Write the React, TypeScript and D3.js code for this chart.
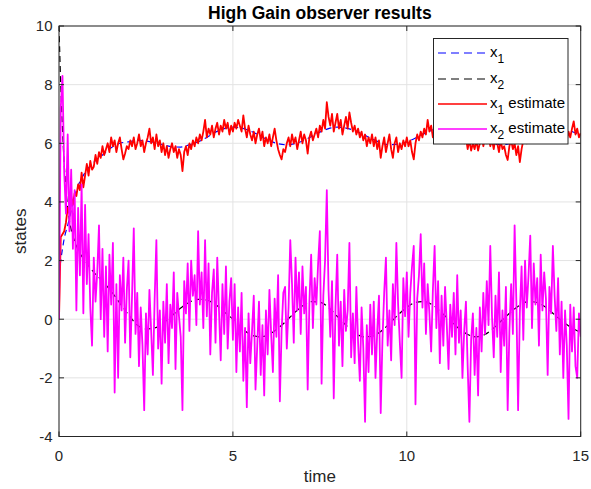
import React from "react";
import * as d3 from "d3";

// ---- data ----
const EST_STEP = 0.05; // sampling step of the estimate series (s)

const trueTimes = [0, 0.05, 0.1, 0.15, 0.25, 0.5, 0.75, 1, 1.25, 1.5, 1.75, 2, 2.25, 2.5, 2.75, 3, 3.25, 3.5, 3.75, 4, 4.25, 4.5, 4.75, 5, 5.25, 5.5, 5.75, 6, 6.25, 6.5, 6.75, 7, 7.25, 7.5, 7.75, 8, 8.25, 8.5, 8.75, 9, 9.25, 9.5, 9.75, 10, 10.25, 10.5, 10.75, 11, 11.25, 11.5, 11.75, 12, 12.25, 12.5, 12.75, 13, 13.25, 13.5, 13.75, 14, 14.25, 14.5, 14.75, 15];

const x1True = [1.5, 2.0, 2.4, 2.75, 3.2, 4.4, 5.0, 5.35, 5.6, 5.85, 6.0, 6.05, 6.1, 6.08, 6.02, 5.95, 5.88, 5.87, 5.95, 6.05, 6.2, 6.38, 6.5, 6.55, 6.52, 6.42, 6.28, 6.12, 6.0, 5.95, 5.98, 6.08, 6.22, 6.38, 6.5, 6.55, 6.52, 6.43, 6.3, 6.15, 6.02, 5.95, 5.97, 6.05, 6.18, 6.33, 6.46, 6.54, 6.55, 6.48, 6.36, 6.22, 6.08, 5.98, 5.95, 6.0, 6.12, 6.27, 6.42, 6.52, 6.55, 6.5, 6.4, 6.27];

const x2True = [10, 8.0, 6.5, 5.3, 3.8, 2.5, 2.0, 1.6, 1.3, 0.95, 0.55, 0.15, -0.2, -0.33, -0.3, -0.12, 0.12, 0.38, 0.58, 0.68, 0.65, 0.5, 0.25, 0.0, -0.3, -0.52, -0.6, -0.55, -0.35, -0.1, 0.2, 0.45, 0.6, 0.58, 0.4, 0.1, -0.2, -0.45, -0.6, -0.58, -0.42, -0.15, 0.15, 0.4, 0.57, 0.6, 0.48, 0.22, -0.05, -0.32, -0.52, -0.6, -0.52, -0.3, -0.02, 0.25, 0.48, 0.6, 0.57, 0.4, 0.15, -0.1, -0.3, -0.45];

const x1Estimate = [
  0, 2.8, 2.9, 3.0, 3.3, 3.8, 3.6, 4.2, 3.9, 4.3, 4.2, 4.6, 4.4, 5.0, 4.5, 4.9, 5.3, 4.9, 5.4, 5.1,
  5.2, 5.6, 5.3, 5.7, 5.5, 5.9, 5.6, 5.8, 6.0, 5.7, 6.2, 5.9, 6.1, 5.7, 6.0, 6.2, 5.8, 5.45, 5.65, 5.9,
  5.8, 6.1, 5.9, 6.2, 5.8, 6.0, 6.3, 5.9, 6.1, 5.7, 6.0, 6.2, 6.5, 6.0, 6.2, 5.8, 6.3, 5.9, 6.1, 5.7,
  6.0, 5.6, 5.9, 5.5, 5.8, 6.0, 5.7, 5.9, 5.5, 5.8, 5.6, 5.05, 5.7, 5.9, 5.6, 6.0, 5.8, 6.1, 5.9, 6.2,
  6.0, 6.3, 6.1, 6.4, 6.8, 6.2, 6.5, 6.3, 6.6, 6.2, 6.5, 6.7, 6.3, 6.6, 6.4, 6.8, 6.5, 6.7, 6.3, 6.6,
  6.4, 6.7, 6.5, 6.8, 6.6, 6.4, 6.95, 6.5, 6.2, 6.6, 6.3, 6.1, 6.4, 6.0, 6.3, 6.5, 6.1, 6.4, 5.9, 6.2,
  6.0, 6.3, 5.9, 6.2, 6.5, 6.1, 5.8, 5.6, 5.45, 5.8, 5.7, 6.0, 6.2, 5.9, 6.3, 6.0, 6.2, 5.8, 6.1, 6.4,
  6.0, 6.3, 6.1, 5.65, 6.2, 6.4, 6.1, 6.3, 6.5, 6.2, 6.6, 6.4, 6.8, 6.5, 7.4, 6.9, 6.6, 7.0, 6.4, 6.7,
  7.0, 6.5, 6.8, 6.3, 6.6, 6.9, 6.5, 7.05, 6.7, 6.4, 6.6, 6.3, 6.5, 6.2, 6.4, 6.1, 6.3, 5.9, 6.2, 6.0,
  6.3, 5.9, 6.2, 5.8, 6.1, 5.5, 5.9, 6.2, 5.7, 6.0, 6.3, 5.8, 5.5, 6.0, 6.2, 5.7, 6.0, 5.8, 6.1, 5.9,
  6.2, 5.9, 6.1, 5.7, 5.45, 6.0, 6.3, 6.1, 6.4, 6.2, 6.5, 6.3, 6.8, 6.4, 6.6, 6.2, 6.5, 6.3, 6.7, 6.4,
  6.6, 6.3, 6.7, 6.4, 6.6, 6.2, 6.5, 6.3, 6.6, 6.2, 6.4, 6.1, 6.3, 6.0, 6.2, 5.8, 6.1, 5.75, 6.0, 5.8,
  6.1, 5.75, 6.0, 6.3, 5.9, 6.2, 6.0, 6.3, 5.9, 6.1, 5.8, 6.2, 6.0, 5.7, 6.1, 5.8, 5.9, 5.6, 5.43, 5.9,
  6.1, 5.8, 6.0, 5.6, 5.9, 5.36, 5.8, 6.1, 6.3, 6.0, 6.4, 6.2, 6.5, 6.3, 6.6, 6.4, 6.7, 6.3, 6.6, 6.4,
  6.7, 6.4, 6.6, 6.3, 6.7, 6.5, 6.3, 6.6, 6.4, 6.2, 6.5, 6.3, 6.1, 6.4, 6.2, 6.5, 6.75, 6.3, 6.5, 6.2, 6.35,
];

const x2Estimate = [
  0, 7.2, 8.3, 5.0, 3.6, 6.3, 3.0, 5.1, 2.4, 4.4, 0.3, 3.8, 1.5, 4.6, 0.2, 3.9, 1.2, 2.9, 0.4, -0.9,
  2.1, 0.6, 1.6, 3.2, 0.0, 2.4, -0.6, 1.8, -1.1, 2.2, 0.5, 2.6, -2.5, 1.2, -2.0, 1.5, 0.3, 2.1, -0.8, 1.0,
  2.0, -1.3, 0.8, 3.1, -0.5, 0.9, -1.6, 0.4, -0.9, -3.1, 0.2, -1.2, 1.0, -0.4, -1.9, 0.7, 2.7, -1.0, 0.3, -2.2,
  0.6, -0.8, 1.2, -1.5, 0.5, -0.3, 1.6, -1.7, 0.9, 0.1, -0.6, -3.1, 1.3, 0.2, 1.9, -0.4, 2.0, 0.8, 1.5, -0.2,
  3.0, 0.5, 1.6, -0.3, 2.7, 0.1, 1.9, -1.2, 0.9, 1.7, -0.8, 2.1, 0.3, -1.4, 1.2, -0.5, 1.8, -1.0, 0.6, 1.4,
  -0.7, 1.2, -1.8, 0.4, -1.1, 0.9, -2.1, -0.3, -3.0, 0.2, -1.5, -0.4, 0.8, -2.4, -0.9, 0.6, -1.9, -0.2, -2.6, 0.3,
  -1.2, 1.0, -0.5, -1.8, 0.7, -0.6, 1.5, -2.8, -0.4, 0.9, 1.1, -1.0, 0.4, 2.7, 1.2, -0.8, 2.1, 0.3, 1.6, -0.5,
  1.8, 0.2, 1.1, -2.4, 0.6, 2.2, -0.3, 1.4, 0.5, 1.9, 3.0, -2.2, 0.8, 2.0, 4.4, 1.0, -0.6, 1.3, -2.7, 0.4,
  2.2, -0.9, 0.6, -1.6, 1.0, -0.4, 0.3, 2.6, -1.3, 0.2, -1.5, 1.1, -0.8, -2.1, 0.4, -1.0, -3.5, -0.2, -1.8, 0.5,
  -1.2, 0.6, -2.0, -0.4, 0.8, -3.2, -0.7, 0.9, 2.1, -0.9, 0.3, -1.4, 1.2, -0.2, 2.6, 0.5, -0.8, -2.0, 1.4, 0.1,
  1.6, -0.6, 0.9, 1.8, 2.5, -2.9, 0.7, 1.5, 2.9, 0.4, 1.9, -0.5, 1.2, 0.2, -1.1, 1.0, 2.5, -0.3, 1.3, -1.5,
  0.8, -0.9, 1.1, -0.2, -1.7, 0.5, -0.6, 0.9, -1.2, 1.5, -0.8, 0.3, -2.0, -0.4, 0.6, -1.6, -3.5, -0.7, 0.2, -1.9,
  -0.3, -2.6, 0.4, -1.1, 0.9, -0.5, 1.3, -0.2, 2.5, 0.1, -1.3, 0.8, -0.6, 1.6, -1.8, 0.3, -0.9, 1.1, -3.1, -0.4,
  1.2, -0.5, 3.2, 0.6, -3.1, 0.2, 1.8, -0.7, 2.0, 0.4, 1.5, 2.85, -0.3, 1.9, 0.5, 1.4, -0.9, 2.2, 0.3, 1.6,
  0.7, -1.9, 1.1, 0.2, 2.5, 0.8, -0.4, 1.4, -1.2, 0.6, -2.0, 0.3, -0.9, -3.4, 0.5, -1.1, 0.4, -1.6, -2.0, 0.2, -0.6,
];

const xTicks = [0, 5, 10, 15];
const yTicks = [-4, -2, 0, 2, 4, 6, 8, 10];
const titleText = "High Gain observer results";
const xLabelText = "time";
const yLabelText = "states";

const legendItems = [
  { sub: "1", rest: "", color: "#0000ff", dash: "8 5", width: 1.2 },
  { sub: "2", rest: "", color: "#000000", dash: "8 5", width: 1.2 },
  { sub: "1", rest: " estimate", color: "#ff0000", dash: null, width: 1.6 },
  { sub: "2", rest: " estimate", color: "#ff00ff", dash: null, width: 1.6 },
];

// ---- layout ----
const W = 591;
const H = 489;
const L = 59;
const R = 580.7;
const T = 26;
const B = 436.5;
const FONT = "'Liberation Sans', Arial, Helvetica, sans-serif";
const AX = "#262626";

export default function App() {
  const x = d3.scaleLinear().domain([0, 15]).range([L, R]);
  const y = d3.scaleLinear().domain([-4, 10]).range([B, T]);

  const estTimes = x1Estimate.map((_, i) => i * EST_STEP);

  const lineXY = d3
    .line<[number, number]>()
    .x((d) => x(d[0]))
    .y((d) => y(d[1]));
  const smoothLine = d3
    .line<[number, number]>()
    .x((d) => x(d[0]))
    .y((d) => y(d[1]))
    .curve(d3.curveMonotoneX);

  const pathX1 = smoothLine(trueTimes.map((t, i) => [t, x1True[i]]));
  const pathX2 = smoothLine(trueTimes.map((t, i) => [t, x2True[i]]));
  const pathX1e = lineXY(estTimes.map((t, i) => [t, x1Estimate[i]]));
  const pathX2e = lineXY(x2Estimate.map((v, i) => [i * EST_STEP, v]));

  const lgX = 433.5;
  const lgY = 38.5;
  const lgW = 134.5;
  const lgH = 105.5;
  const rowY = [53, 79, 104, 129];

  return (
    <svg
      width={W}
      height={H}
      style={{ position: "absolute", left: 0, top: 0, background: "#fff" }}
      fontFamily={FONT}
    >
      <rect x={0} y={0} width={W} height={H} fill="#fff" />
      <defs>
        <clipPath id="plotclip">
          <rect x={L} y={T} width={R - L} height={B - T} />
        </clipPath>
      </defs>
      {/* grid */}
      {xTicks.map((t) => (
        <line key={"gx" + t} x1={x(t)} x2={x(t)} y1={T} y2={B} stroke="#e3e3e3" strokeWidth={1} />
      ))}
      {yTicks.map((t) => (
        <line key={"gy" + t} x1={L} x2={R} y1={y(t)} y2={y(t)} stroke="#e3e3e3" strokeWidth={1} />
      ))}
      {/* data */}
      <g clipPath="url(#plotclip)" fill="none">
        <path d={pathX1 || ""} stroke="#0000ff" strokeWidth={1.2} strokeDasharray="6 4" />
        <path d={pathX2 || ""} stroke="#000000" strokeWidth={1.2} strokeDasharray="6 4" />
        <path d={pathX1e || ""} stroke="#ff0000" strokeWidth={1.8} strokeLinejoin="round" />
        <path d={pathX2e || ""} stroke="#ff00ff" strokeWidth={1.8} strokeLinejoin="round" />
      </g>
      {/* box */}
      <rect x={L} y={T} width={R - L} height={B - T} fill="none" stroke={AX} strokeWidth={1} />
      {/* ticks */}
      {xTicks.map((t) => (
        <g key={"tx" + t}>
          <line x1={x(t)} x2={x(t)} y1={B} y2={B - 5} stroke={AX} />
          <line x1={x(t)} x2={x(t)} y1={T} y2={T + 5} stroke={AX} />
          <text x={x(t)} y={461} textAnchor="middle" fontSize={15} fill={AX}>
            {t}
          </text>
        </g>
      ))}
      {yTicks.map((t) => (
        <g key={"ty" + t}>
          <line x1={L} x2={L + 5} y1={y(t)} y2={y(t)} stroke={AX} />
          <line x1={R} x2={R - 5} y1={y(t)} y2={y(t)} stroke={AX} />
          <text x={52.5} y={y(t) + 5.3} textAnchor="end" fontSize={15} fill={AX}>
            {t}
          </text>
        </g>
      ))}
      {/* title & labels */}
      <text x={(L + R) / 2} y={19} textAnchor="middle" fontSize={17.5} fontWeight="bold" fill="#000">
        {titleText}
      </text>
      <text x={(L + R) / 2} y={482} textAnchor="middle" fontSize={17} fill={AX}>
        {xLabelText}
      </text>
      <text
        transform={`translate(25.5, ${(T + B) / 2}) rotate(-90)`}
        textAnchor="middle"
        fontSize={17}
        fill={AX}
      >
        {yLabelText}
      </text>
      {/* legend */}
      <rect x={lgX} y={lgY} width={lgW} height={lgH} fill="#fff" stroke={AX} strokeWidth={1} />
      {legendItems.map((it, i) => (
        <g key={"lg" + i}>
          <line
            x1={438}
            x2={487}
            y1={rowY[i]}
            y2={rowY[i]}
            stroke={it.color}
            strokeWidth={it.width}
            strokeDasharray={it.dash || undefined}
          />
          <text x={490} y={rowY[i] + 4} fontSize={15} fill="#000">
            x
            <tspan dy={6} fontSize={12}>
              {it.sub}
            </tspan>
            {it.rest ? <tspan dy={-6} fontSize={15}>{it.rest}</tspan> : null}
          </text>
        </g>
      ))}
    </svg>
  );
}
